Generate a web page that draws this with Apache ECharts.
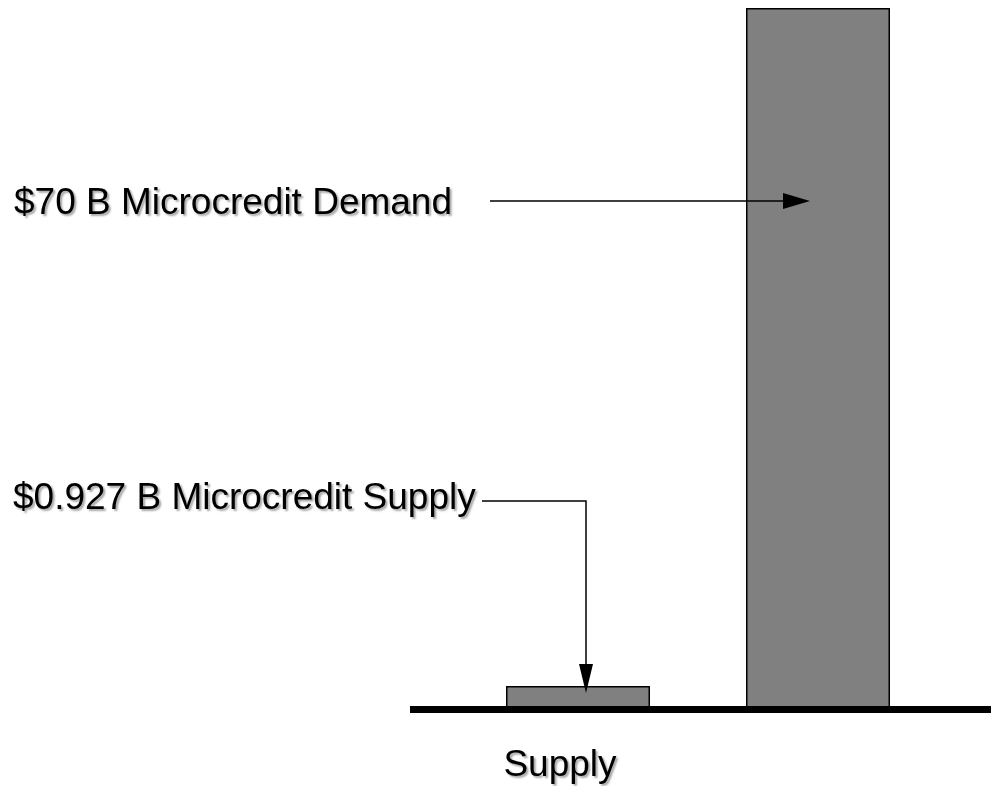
<!DOCTYPE html>
<html>
<head>
<meta charset="utf-8">
<script src="https://cdn.jsdelivr.net/npm/echarts@6/dist/echarts.min.js"></script>
<style>
  html, body { margin: 0; padding: 0; background: #fff; }
  #chart { width: 991px; height: 786px; }
</style>
</head>
<body>
<div id="chart"></div>
<script>
// bar data
const categories = ['Supply', 'Demand']
const values = [0.927, 70]
// callout texts
const supplyNote = '$0.927 B Microcredit Supply'
const demandNote = '$70 B Microcredit Demand'

const FONT = '"Liberation Sans", Arial, sans-serif'
const shadow = {
  textShadowColor: 'rgba(0,0,0,0.35)',
  textShadowBlur: 2,
  textShadowOffsetX: 2,
  textShadowOffsetY: 2
}

const chart = echarts.init(document.getElementById('chart'))

chart.setOption({
  animation: false,
  grid: [
    { left: 458, right: 53, top: 8, bottom: 77 },
    { left: 410, right: 0, top: 8, bottom: 77 }
  ],
  xAxis: [
    {
      type: 'category',
      gridIndex: 0,
      data: categories,
      axisLine: { show: false },
      axisTick: { show: false },
      axisLabel: Object.assign({
        formatter: v => (v === 'Supply' ? v : ''),
        fontSize: 37,
        fontFamily: FONT,
        color: '#000',
        margin: 38,
        padding: [0, 36, 0, 0]
      }, shadow)
    },
    {
      type: 'category',
      gridIndex: 1,
      data: [''],
      z: 5,
      axisLine: { lineStyle: { color: '#000', width: 7, cap: 'butt' } },
      axisTick: { show: false },
      axisLabel: { show: false }
    }
  ],
  yAxis: [
    { type: 'value', gridIndex: 0, min: 0, max: 70, show: false },
    { type: 'value', gridIndex: 1, min: 0, max: 70, show: false }
  ],
  series: [{
    type: 'bar',
    xAxisIndex: 0,
    yAxisIndex: 0,
    data: values,
    barWidth: 144,
    barMinHeight: 23,
    itemStyle: { color: '#808080', borderColor: '#000', borderWidth: 1.5 }
  }]
})

// callouts
const sp = chart.convertToPixel({ gridIndex: 0 }, ['Supply', 0])
const dp = chart.convertToPixel({ gridIndex: 0 }, ['Demand', 0])
const dTip = [dp[0] - 8, 201]
const sx = sp[0] + 8
const sTipY = sp[1] - 16

const textStyle = Object.assign({ font: '37px ' + FONT, fill: '#000', verticalAlign: 'middle' }, shadow)

chart.setOption({
  graphic: [
    { type: 'text', x: 14, y: 204, style: Object.assign({ text: demandNote }, textStyle) },
    { type: 'text', x: 13, y: 499, style: Object.assign({ text: supplyNote }, textStyle) },
    {
      type: 'polyline', z: 10,
      shape: { points: [[490, dTip[1]], [dTip[0] - 26, dTip[1]]] },
      style: { stroke: '#000', lineWidth: 1.5, fill: null }
    },
    {
      type: 'polygon', z: 10,
      shape: { points: [[dTip[0] - 27, dTip[1] - 8], dTip, [dTip[0] - 27, dTip[1] + 8]] },
      style: { fill: '#000' }
    },
    {
      type: 'polyline', z: 10,
      shape: { points: [[482, 501], [sx, 501], [sx, sTipY - 28]] },
      style: { stroke: '#000', lineWidth: 1.5, fill: null }
    },
    {
      type: 'polygon', z: 10,
      shape: { points: [[sx - 7, sTipY - 29], [sx, sTipY], [sx + 7, sTipY - 29]] },
      style: { fill: '#000' }
    }
  ]
})
</script>
</body>
</html>
